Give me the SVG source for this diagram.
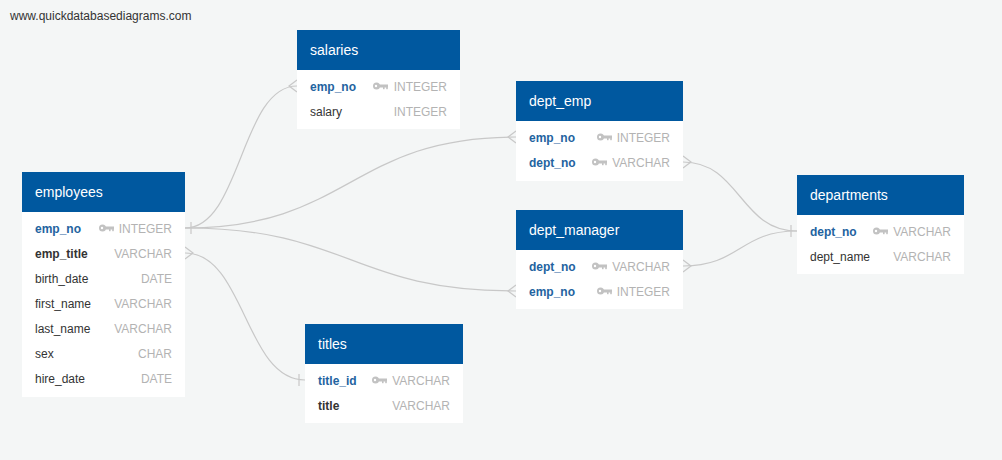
<svg xmlns="http://www.w3.org/2000/svg" width="1002" height="460" viewBox="0 0 1002 460">
<style>
text{font-family:"Liberation Sans",Arial,sans-serif}
.hd{fill:#00589f}
.bd{fill:#ffffff}
.ht{fill:#ffffff;font-size:14px}
.f{fill:#333333;font-size:12px}
.fb{fill:#333333;font-size:12px;font-weight:bold}
.pk{fill:#2363a0;font-size:12px;font-weight:bold}
.ty{fill:#b3b3b3;font-size:12px;text-anchor:end}
.ln{fill:none;stroke:#c8c8c8;stroke-width:1.2}
</style>
<defs>
<g id="key" fill="#c2c2c2">
<circle cx="3.5" cy="0" r="3.5"/>
<rect x="5" y="-1.5" width="10" height="3"/>
<rect x="10" y="1" width="1.6" height="2.2"/>
<rect x="13.2" y="1" width="1.6" height="2.2"/>
<circle cx="3" cy="0" r="1.2" fill="#ffffff"/>
</g>
</defs>
<rect width="1002" height="460" fill="#f4f6f6"/>
<text x="10" y="20" style="font-size:12px;fill:#333333">www.quickdatabasediagrams.com</text>

<g id="connectors" class="ln">
<path d="M185,228 C241,228 241,86 297,86"/>
<path d="M297,80 L289,86 L297,92"/>
<path d="M185,228 C350,228 350,137 516,137"/>
<path d="M516,131 L508,137 L516,143"/>
<path d="M185,228 C350,228 350,291 516,291"/>
<path d="M516,285 L508,291 L516,297"/>
<path d="M191,222 V234"/>
<path d="M185,253 C245,253 245,380 305,380"/>
<path d="M185,247 L193,253 L185,259"/>
<path d="M299,374 V386"/>
<path d="M683,162 C740,162 740,231 797,231"/>
<path d="M683,156 L691,162 L683,168"/>
<path d="M683,266 C740,266 740,231 797,231"/>
<path d="M683,260 L691,266 L683,272"/>
<path d="M791,225 V237"/>
</g>

<g id="employees">
<rect x="22" y="172" width="163" height="225" class="bd"/>
<rect x="22" y="172" width="163" height="40" class="hd"/>
<text x="35" y="197" class="ht">employees</text>
<text x="35" y="233" class="pk">emp_no</text><use href="#key" x="99" y="228"/><text x="172" y="233" class="ty">INTEGER</text>
<text x="35" y="258" class="fb">emp_title</text><text x="172" y="258" class="ty">VARCHAR</text>
<text x="35" y="283" class="f">birth_date</text><text x="172" y="283" class="ty">DATE</text>
<text x="35" y="308" class="f">first_name</text><text x="172" y="308" class="ty">VARCHAR</text>
<text x="35" y="333" class="f">last_name</text><text x="172" y="333" class="ty">VARCHAR</text>
<text x="35" y="358" class="f">sex</text><text x="172" y="358" class="ty">CHAR</text>
<text x="35" y="383" class="f">hire_date</text><text x="172" y="383" class="ty">DATE</text>
</g>

<g id="salaries">
<rect x="297" y="30" width="163" height="99" class="bd"/>
<rect x="297" y="30" width="163" height="40" class="hd"/>
<text x="310" y="55" class="ht">salaries</text>
<text x="310" y="91" class="pk">emp_no</text><use href="#key" x="373" y="86"/><text x="447" y="91" class="ty">INTEGER</text>
<text x="310" y="116" class="f">salary</text><text x="447" y="116" class="ty">INTEGER</text>
</g>

<g id="dept_emp">
<rect x="516" y="81" width="167" height="100" class="bd"/>
<rect x="516" y="81" width="167" height="40" class="hd"/>
<text x="529" y="106" class="ht">dept_emp</text>
<text x="529" y="142" class="pk">emp_no</text><use href="#key" x="597" y="137"/><text x="670" y="142" class="ty">INTEGER</text>
<text x="529" y="167" class="pk">dept_no</text><use href="#key" x="592" y="162"/><text x="670" y="167" class="ty">VARCHAR</text>
</g>

<g id="dept_manager">
<rect x="516" y="210" width="167" height="99" class="bd"/>
<rect x="516" y="210" width="167" height="40" class="hd"/>
<text x="529" y="235" class="ht">dept_manager</text>
<text x="529" y="271" class="pk">dept_no</text><use href="#key" x="592" y="266"/><text x="670" y="271" class="ty">VARCHAR</text>
<text x="529" y="296" class="pk">emp_no</text><use href="#key" x="597" y="291"/><text x="670" y="296" class="ty">INTEGER</text>
</g>

<g id="departments">
<rect x="797" y="175" width="167" height="99" class="bd"/>
<rect x="797" y="175" width="167" height="40" class="hd"/>
<text x="810" y="200" class="ht">departments</text>
<text x="810" y="236" class="pk">dept_no</text><use href="#key" x="873" y="231"/><text x="951" y="236" class="ty">VARCHAR</text>
<text x="810" y="261" class="f">dept_name</text><text x="951" y="261" class="ty">VARCHAR</text>
</g>

<g id="titles">
<rect x="305" y="324" width="158" height="99" class="bd"/>
<rect x="305" y="324" width="158" height="40" class="hd"/>
<text x="318" y="349" class="ht">titles</text>
<text x="318" y="385" class="pk">title_id</text><use href="#key" x="372" y="380"/><text x="450" y="385" class="ty">VARCHAR</text>
<text x="318" y="410" class="fb">title</text><text x="450" y="410" class="ty">VARCHAR</text>
</g>
</svg>
